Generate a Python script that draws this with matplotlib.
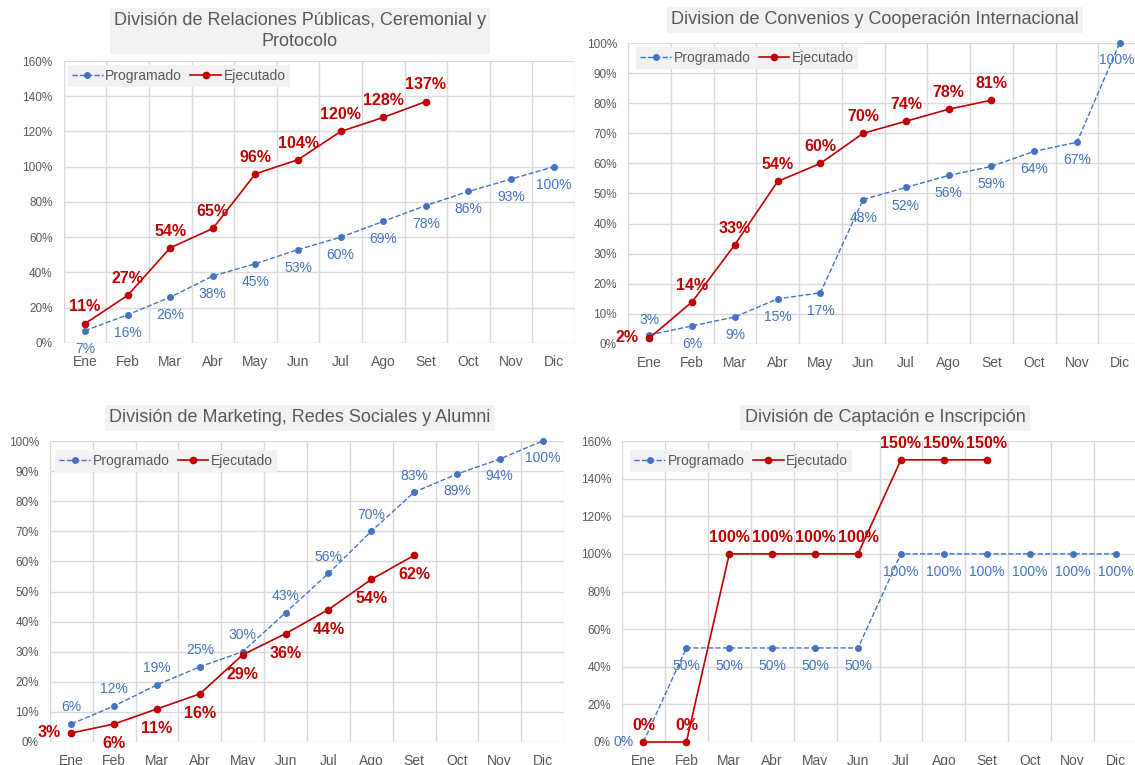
import matplotlib.pyplot as plt
from matplotlib.ticker import PercentFormatter

plt.rcParams['font.family'] = ['Liberation Sans', 'DejaVu Sans']

# meses
meses = ["Ene", "Feb", "Mar", "Abr", "May", "Jun", "Jul", "Ago", "Set", "Oct", "Nov", "Dic"]

# datos por division (en %)
prog_rrpp = [7, 16, 26, 38, 45, 53, 60, 69, 78, 86, 93, 100]
ejec_rrpp = [11, 27, 54, 65, 96, 104, 120, 128, 137]

prog_conv = [3, 6, 9, 15, 17, 48, 52, 56, 59, 64, 67, 100]
ejec_conv = [2, 14, 33, 54, 60, 70, 74, 78, 81]

prog_mkt = [6, 12, 19, 25, 30, 43, 56, 70, 83, 89, 94, 100]
ejec_mkt = [3, 6, 11, 16, 29, 36, 44, 54, 62]

prog_capt = [0, 50, 50, 50, 50, 50, 100, 100, 100, 100, 100, 100]
ejec_capt = [0, 0, 100, 100, 100, 100, 150, 150, 150]

titulos = [
    "División de Relaciones Públicas, Ceremonial y\nProtocolo",
    "Division de Convenios y Cooperación Internacional",
    "División de Marketing, Redes Sociales y Alumni",
    "División de Captación e Inscripción",
]

AZUL = '#4472C4'
ROJO = '#C00000'
GRIS = '#595959'
W, H = 1135, 765

fig = plt.figure(figsize=(W / 100, H / 100), dpi=100)


def px_axes(left, right, top, bottom):
    # posicion del axes en pixeles -> fracciones de la figura
    return [left / W, (H - bottom) / H, (right - left) / W, (bottom - top) / H]


BAJO = (0, -13)
ARRIBA = (0, 12)

paneles = [
    dict(prog=prog_rrpp, ejec=ejec_rrpp, box=px_axes(63.7, 575, 61, 343), ymax=160, step=20,
         title_xy=(300, 31), leg=(0.008, 0.986),
         prog_off=BAJO, ejec_off=ARRIBA, prog_extra={}, ejec_extra={}),
    dict(prog=prog_conv, ejec=ejec_conv, box=px_axes(628, 1141, 43, 344), ymax=100, step=10,
         title_xy=(875, 20), leg=(0.016, 0.987),
         prog_off=BAJO, ejec_off=ARRIBA, prog_extra={0: (0, 11), 11: (-2, -12)},
         ejec_extra={0: (-16, 0)}),
    dict(prog=prog_mkt, ejec=ejec_mkt, box=px_axes(50, 564, 441, 742), ymax=100, step=10,
         title_xy=(300, 418), leg=(0.01, 0.97),
         prog_off=ARRIBA, ejec_off=(0, -14),
         prog_extra={9: (0, -12), 10: (0, -12), 11: (0, -12)},
         ejec_extra={0: (-16, 0)}),
    dict(prog=prog_capt, ejec=ejec_capt, box=px_axes(622, 1137, 441, 742), ymax=160, step=20,
         title_xy=(885, 418), leg=(0.016, 0.97),
         prog_off=BAJO, ejec_off=ARRIBA, prog_extra={0: (-14, 0)}, ejec_extra={}),
]

x = list(range(len(meses)))

for i, p in enumerate(paneles):
    ax = fig.add_axes(p['box'])
    ax.set_xlim(-0.5, 11.5)
    ax.set_ylim(0, p['ymax'])

    # rejilla estilo excel
    ax.set_yticks(range(0, p['ymax'] + 1, p['step']))
    ax.yaxis.set_major_formatter(PercentFormatter(decimals=0))
    ax.set_xticks(x)
    ax.set_xticklabels(meses)
    ax.set_xticks([k - 0.5 for k in range(13)], minor=True)
    ax.grid(True, axis='y', color='#D9D9D9', lw=1)
    ax.grid(True, axis='x', which='minor', color='#D9D9D9', lw=1)
    ax.set_axisbelow(True)
    for s in ax.spines.values():
        s.set_visible(False)
    ax.tick_params(axis='both', which='both', length=0, colors=GRIS)
    ax.tick_params(axis='y', labelsize=8.5, pad=8)
    ax.tick_params(axis='x', labelsize=10, pad=8.5)

    ax.plot(x, p['prog'], ls='--', color=AZUL, lw=1, marker='o', ms=4,
            label='Programado', clip_on=False, zorder=3)
    xe = x[:len(p['ejec'])]
    ax.plot(xe, p['ejec'], ls='-', color=ROJO, lw=1.2, marker='o', ms=4.5,
            label='Ejecutado', clip_on=False, zorder=4)

    for k, v in enumerate(p['prog']):
        off = p['prog_extra'].get(k, p['prog_off'])
        ax.annotate(f"{v}%", (k, v), xytext=off, textcoords='offset points',
                    ha='center', va='center', color=AZUL, fontsize=10,
                    annotation_clip=False, zorder=5)
    for k, v in enumerate(p['ejec']):
        off = p['ejec_extra'].get(k, p['ejec_off'])
        ax.annotate(f"{v}%", (k, v), xytext=off, textcoords='offset points',
                    ha='center', va='center', color=ROJO, fontsize=11.5,
                    fontweight='bold', annotation_clip=False, zorder=6)

    leg = ax.legend(loc='upper left', bbox_to_anchor=p['leg'], ncol=2, fontsize=10,
                    frameon=True, fancybox=False, handlelength=2.2, numpoints=1,
                    columnspacing=0.6, handletextpad=0.2, borderpad=0.3,
                    borderaxespad=0, labelcolor=GRIS)
    leg.get_frame().set_facecolor('#F2F2F2')
    leg.get_frame().set_edgecolor('none')
    leg.get_frame().set_alpha(1)

    tx, ty = p['title_xy']
    fig.text(tx / W, (H - ty) / H, titulos[i], ha='center', va='center', fontsize=13,
             color=GRIS, linespacing=1.25,
             bbox=dict(facecolor='#F2F2F2', edgecolor='none', pad=3))

fig.savefig('out.png', dpi=100)
